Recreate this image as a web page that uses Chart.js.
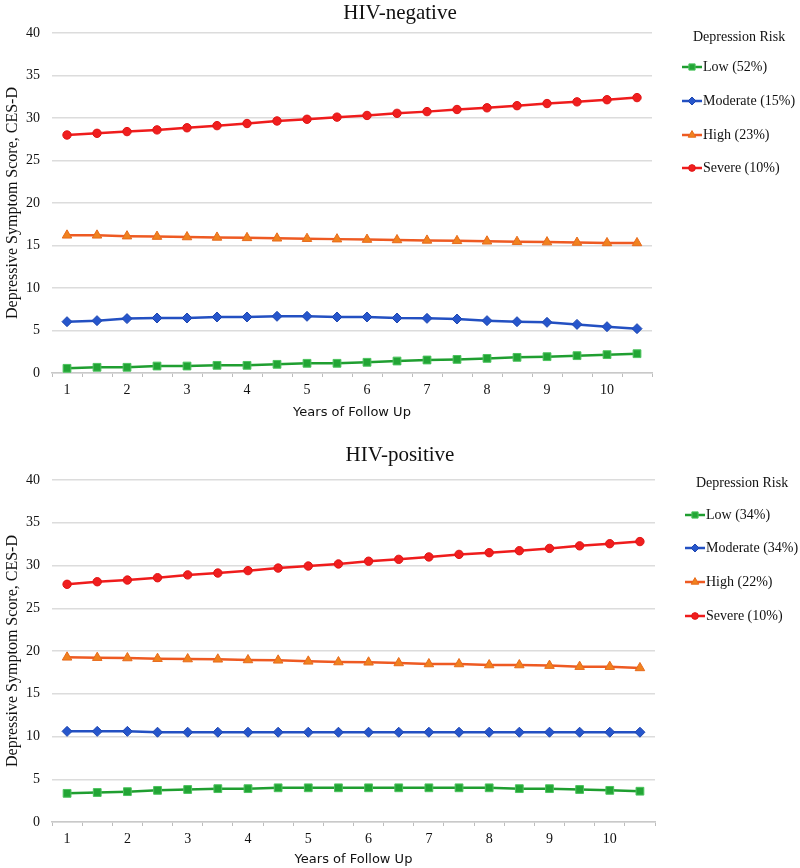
<!DOCTYPE html>
<html><head><meta charset="utf-8">
<script src="https://cdn.jsdelivr.net/npm/chart.js@4.4.1/dist/chart.umd.min.js"></script>
<style>
html,body{margin:0;padding:0;background:#fff;}
canvas{display:block;}
</style></head><body>
<canvas id="c1" width="800" height="442"></canvas>
<canvas id="c2" width="800" height="426"></canvas>
<script>
const years = [1,1.5,2,2.5,3,3.5,4,4.5,5,5.5,6,6.5,7,7.5,8,8.5,9,9.5,10,10.5];
const yTicks = [0,5,10,15,20,25,30,35,40];
const riskNames = ['Low','Moderate','High','Severe'];
const negPct = ['52%','15%','23%','10%'];
const posPct = ['34%','34%','22%','10%'];

// HIV-negative
const negLow = [0.55,0.67,0.67,0.82,0.82,0.9,0.9,1.02,1.14,1.14,1.26,1.41,1.53,1.6,1.72,1.84,1.92,2.04,2.16,2.27];
const negModerate = [6.04,6.16,6.4,6.47,6.47,6.59,6.59,6.67,6.67,6.59,6.59,6.47,6.43,6.35,6.16,6.04,5.96,5.72,5.45,5.22];
const negHigh = [16.2,16.2,16.1,16.05,16.0,15.95,15.9,15.85,15.8,15.75,15.7,15.65,15.6,15.55,15.5,15.45,15.4,15.35,15.3,15.3];
const negSevere = [28.0,28.2,28.4,28.6,28.85,29.1,29.35,29.65,29.85,30.1,30.3,30.55,30.75,31.0,31.2,31.45,31.7,31.9,32.15,32.4];

// HIV-positive
const posLow = [3.35,3.45,3.55,3.7,3.8,3.9,3.9,4.0,4.0,4.0,4.0,4.0,4.0,4.0,4.0,3.9,3.9,3.8,3.7,3.6];
const posModerate = [10.6,10.6,10.6,10.5,10.5,10.5,10.5,10.5,10.5,10.5,10.5,10.5,10.5,10.5,10.5,10.5,10.5,10.5,10.5,10.5];
const posHigh = [19.26,19.22,19.18,19.1,19.06,19.03,18.95,18.91,18.79,18.71,18.68,18.6,18.48,18.48,18.36,18.36,18.29,18.17,18.17,18.02];
const posSevere = [27.8,28.1,28.3,28.57,28.9,29.12,29.4,29.7,29.94,30.18,30.5,30.72,31.0,31.3,31.5,31.73,32.0,32.3,32.55,32.8];

const SERIF = '"Liberation Serif", "Times New Roman", serif';
const styles = [
  {line:'#1f9e30', fill:'#22a535', border:'#4cc45e', shape:'rect', r:5.5},
  {line:'#2350c2', fill:'#2656cc', border:'#1e46b0', shape:'rectRot', r:5},
  {line:'#ee5a22', fill:'#f0821e', border:'#e86a1c', shape:'triangle', r:5.5},
  {line:'#ef1c1c', fill:'#f01e1e', border:'#e01414', shape:'circle', r:4.2}
];

const legendPlugin = {
  id: 'depLegend',
  afterDraw(chart, args, o) {
    const c = chart.ctx;
    c.save();
    // chart title, centred on the whole canvas
    c.font = '21px ' + SERIF;
    c.fillStyle = '#111';
    c.textBaseline = 'middle';
    c.textAlign = 'center';
    c.fillText(o.chartTitle, chart.width / 2, o.chartTitleY);
    // legend
    c.font = '14px ' + SERIF;
    c.textAlign = 'left';
    c.fillText(o.title, o.titleX, o.titleY);
    chart.data.datasets.forEach((ds, i) => {
      const y = o.itemY[i];
      c.strokeStyle = ds.borderColor;
      c.lineWidth = 2.5;
      c.beginPath(); c.moveTo(o.lineX0, y); c.lineTo(o.lineX1, y); c.stroke();
      c.fillStyle = ds.pointBackgroundColor;
      c.strokeStyle = ds.pointBorderColor;
      c.lineWidth = 1;
      Chart.helpers.drawPoint(c, {pointStyle: ds.pointStyle, radius: ds.pointRadius * 0.8, rotation: 0, borderWidth: 1}, (o.lineX0 + o.lineX1) / 2, y);
      c.fillStyle = '#111';
      c.fillText(ds.label, o.textX, y);
    });
    c.restore();
  }
};

function makeChart(id, titleText, series, pcts, L) {
  const datasets = series.map((vals, i) => ({
    label: riskNames[i] + ' (' + pcts[i] + ')',
    data: vals,
    borderColor: styles[i].line,
    backgroundColor: styles[i].fill,
    pointBackgroundColor: styles[i].fill,
    pointBorderColor: styles[i].border,
    pointBorderWidth: 1,
    pointStyle: styles[i].shape,
    pointRadius: styles[i].r,
    borderWidth: 2.5,
    tension: 0,
    fill: false
  }));
  const xTitleLH = 13 * 1.2;
  L.legend.chartTitle = titleText;
  return new Chart(document.getElementById(id), {
    type: 'line',
    data: { labels: years.map(String), datasets },
    options: {
      responsive: false,
      animation: false,
      layout: { padding: { top: L.areaTop, left: 0, right: L.padRight, bottom: 0 } },
      plugins: {
        legend: { display: false },
        tooltip: { enabled: false },
        title: { display: false },
        depLegend: L.legend
      },
      scales: {
        x: {
          type: 'category', offset: true,
          grid: { display: true, drawOnChartArea: false, drawTicks: true, tickLength: 4, offset: true, color: '#bdbdbd', lineWidth: 1 },
          border: { display: true, color: '#c9c9c9', width: 1.5 },
          ticks: {
            autoSkip: false, maxRotation: 0, minRotation: 0, padding: 5,
            font: { family: SERIF, size: 14 }, color: '#111',
            callback: (v, i) => Number.isInteger(years[i]) ? String(years[i]) : ''
          },
          title: {
            display: true, text: 'Years of Follow Up', color: '#111',
            font: { family: '"DejaVu Sans", sans-serif', size: 13 },
            padding: { top: 0, bottom: L.h - L.xTitleY - xTitleLH / 2 }
          },
          afterFit: (s) => { s.height = L.h - L.areaBottom; }
        },
        y: {
          min: 0, max: 40,
          afterBuildTicks: (s) => { s.ticks = yTicks.map(v => ({ value: v })); },
          ticks: { padding: 12, font: { family: SERIF, size: 14 }, color: '#111' },
          grid: { color: '#dcdcdc', lineWidth: 1.5, drawTicks: false },
          border: { display: false },
          title: {
            display: true, text: 'Depressive Symptom Score, CES-D', color: '#111',
            font: { family: SERIF, size: 16 },
            padding: { top: 3, bottom: 0 }
          },
          afterFit: (s) => { s.width = 52; }
        }
      }
    },
    plugins: [legendPlugin]
  });
}

makeChart('c1', 'HIV-negative', [negLow, negModerate, negHigh, negSevere], negPct, {
  h: 442, areaTop: 33, areaBottom: 373, padRight: 148, xTitleY: 413,
  legend: { chartTitleY: 13, title: 'Depression Risk', titleX: 693, titleY: 37, itemY: [67, 101, 135, 168], lineX0: 682, lineX1: 702, textX: 703 }
});
makeChart('c2', 'HIV-positive', [posLow, posModerate, posHigh, posSevere], posPct, {
  h: 426, areaTop: 38, areaBottom: 380, padRight: 145, xTitleY: 418,
  legend: { chartTitleY: 13, title: 'Depression Risk', titleX: 696, titleY: 41, itemY: [73, 106, 140, 174], lineX0: 685, lineX1: 705, textX: 706 }
});
</script>
</body></html>
